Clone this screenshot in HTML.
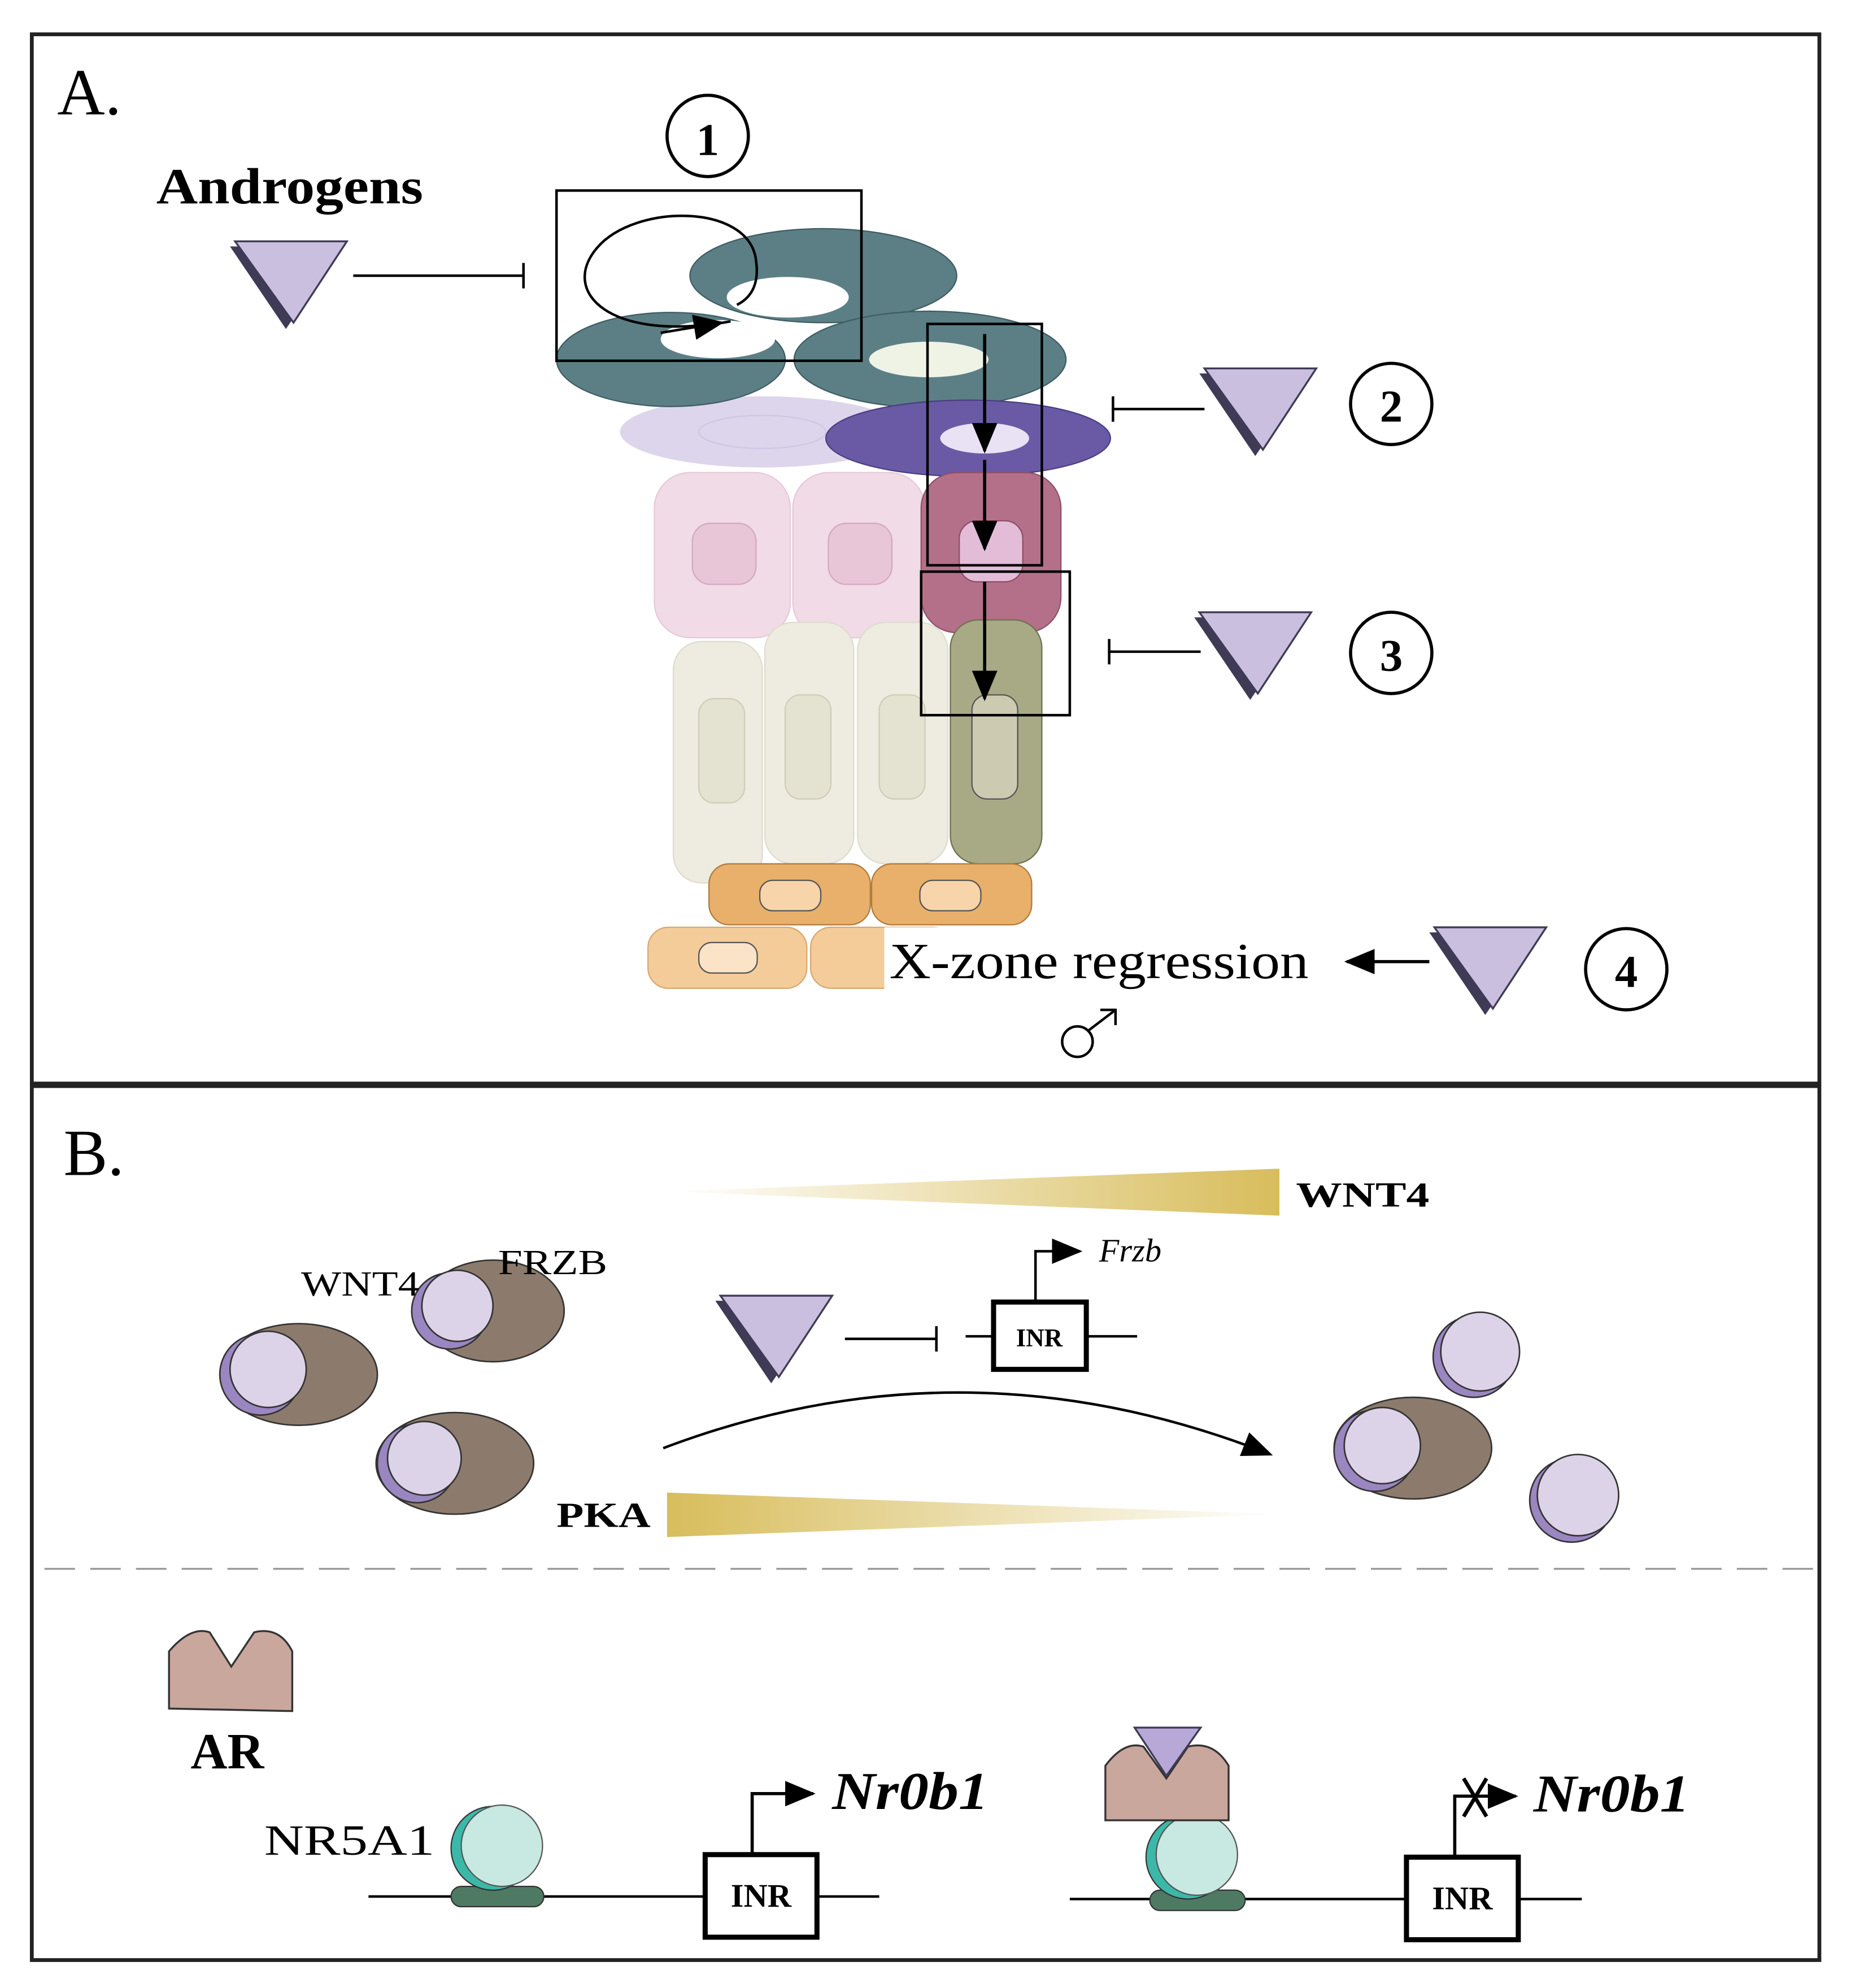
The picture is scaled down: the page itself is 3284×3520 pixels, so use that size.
<!DOCTYPE html>
<html><head><style>html,body{margin:0;padding:0;background:#fff}svg{display:block}</style></head><body>
<svg xmlns="http://www.w3.org/2000/svg" width="3284" height="3520" viewBox="0 0 1460 1565">
<defs>
<linearGradient id="gw" x1="0" x2="1"><stop offset="0" stop-color="#fff"/><stop offset="1" stop-color="#d8bd5c"/></linearGradient>
<linearGradient id="gp" x1="1" x2="0"><stop offset="0" stop-color="#fff"/><stop offset="1" stop-color="#d8bd5c"/></linearGradient>
<marker id="ah2" markerWidth="24" markerHeight="20" refX="22" refY="10" orient="auto" markerUnits="userSpaceOnUse"><path d="M0,0 L24,10 L0,20z" fill="#000"/></marker>
<g id="tri"><path d="M-44,-30 L44,-30 L0,35z" fill="#3f3a55" transform="translate(-4,2)"/><path d="M-44,-32 L44,-32 L2,32z" fill="#cbbfe0" stroke="#3f3a55" stroke-width="1.5"/></g>
</defs>
<g font-family="Liberation Serif, serif">
<rect x="25" y="27" width="1407" height="826" fill="none" stroke="#222" stroke-width="3"/>
<rect x="25" y="855" width="1407" height="688" fill="none" stroke="#222" stroke-width="3"/>
<text x="45" y="90" font-size="52">A.</text>
<text x="123" y="160" font-size="40" font-weight="bold" textLength="210" lengthAdjust="spacingAndGlyphs">Androgens</text>
<circle cx="557" cy="107" r="32" fill="#fff" stroke="#000" stroke-width="2.5"/><text x="557" y="122" font-size="36" font-weight="bold" text-anchor="middle">1</text>
<use href="#tri" x="229" y="222"/>
<line x1="278" y1="217" x2="412" y2="217" stroke="#000" stroke-width="2"/><line x1="412" y1="207" x2="412" y2="227" stroke="#000" stroke-width="2"/>
<ellipse cx="600" cy="340" rx="112" ry="28" fill="#ddd5ec"/><ellipse cx="600" cy="340" rx="50" ry="13" fill="none" stroke="#cfc6e4"/>
<ellipse cx="648" cy="217" rx="105" ry="37" fill="#5c7f86" stroke="#3e5c62"/><ellipse cx="620" cy="234" rx="48" ry="16" fill="#fff"/>
<ellipse cx="528" cy="283" rx="90" ry="37" fill="#5c7f86" stroke="#3e5c62"/><ellipse cx="565" cy="267" rx="45" ry="15" fill="#fff"/>
<ellipse cx="732" cy="283" rx="107" ry="38" fill="#5c7f86" stroke="#3e5c62"/><ellipse cx="731" cy="283" rx="47" ry="14" fill="#eef3e6"/>
<ellipse cx="762" cy="345" rx="112" ry="30" fill="#6a5aa6" stroke="#4a3e80"/><ellipse cx="775" cy="345" rx="35" ry="12" fill="#e8e2f4"/>
<rect x="515" y="372" width="107" height="130" rx="28" fill="#f0dbe6" stroke="#e6c9d8"/><rect x="545" y="412" width="50" height="48" rx="14" fill="#e8c6d8" stroke="#d4a8bf"/>
<rect x="624" y="372" width="104" height="130" rx="28" fill="#f0dbe6" stroke="#e6c9d8"/><rect x="652" y="412" width="50" height="48" rx="14" fill="#e8c6d8" stroke="#d4a8bf"/>
<rect x="725" y="372" width="110" height="126" rx="28" fill="#b47088" stroke="#8f4f68"/><rect x="755" y="410" width="50" height="48" rx="14" fill="#e3bdd8" stroke="#8f4f68"/>
<rect x="530" y="505" width="70" height="190" rx="22" fill="#eeece0" stroke="#dedccd"/><rect x="550" y="550" width="36" height="82" rx="12" fill="#e4e2d0" stroke="#cfcdb8"/>
<rect x="602" y="490" width="70" height="190" rx="22" fill="#eeece0" stroke="#dedccd"/><rect x="618" y="547" width="36" height="82" rx="12" fill="#e4e2d0" stroke="#cfcdb8"/>
<rect x="675" y="490" width="71" height="190" rx="22" fill="#eeece0" stroke="#dedccd"/><rect x="692" y="547" width="36" height="82" rx="12" fill="#e4e2d0" stroke="#cfcdb8"/>
<rect x="748" y="488" width="72" height="192" rx="22" fill="#a8aa86" stroke="#6f7150"/><rect x="765" y="547" width="36" height="82" rx="12" fill="#cdcab2" stroke="#555"/>
<rect x="558" y="680" width="127" height="48" rx="16" fill="#e8b06a" stroke="#b07a3a"/><rect x="598" y="693" width="48" height="24" rx="10" fill="#f8d4aa" stroke="#555"/>
<rect x="686" y="680" width="126" height="48" rx="16" fill="#e8b06a" stroke="#b07a3a"/><rect x="724" y="693" width="48" height="24" rx="10" fill="#f8d4aa" stroke="#555"/>
<rect x="510" y="730" width="125" height="48" rx="16" fill="#f4cc9a" stroke="#d8a870"/><rect x="550" y="742" width="46" height="24" rx="10" fill="#fbe3c8" stroke="#555"/>
<rect x="638" y="730" width="112" height="48" rx="16" fill="#f4cc9a" stroke="#d8a870"/>
<rect x="696" y="730" width="60" height="50" fill="#fff"/>
<path d="M575,253 C480,270 440,230 470,195 C500,160 590,160 595,205 C598,225 590,235 580,240" fill="none" stroke="#000" stroke-width="2"/>
<line x1="520" y1="262" x2="568" y2="254" stroke="#000" stroke-width="2" marker-end="url(#ah2)"/>
<rect x="438" y="150" width="240" height="134" fill="none" stroke="#000" stroke-width="2"/>
<rect x="730" y="255" width="90" height="190" fill="none" stroke="#000" stroke-width="2"/>
<rect x="725" y="450" width="117" height="113" fill="none" stroke="#000" stroke-width="2"/>
<line x1="775" y1="263" x2="775" y2="355" stroke="#000" stroke-width="2.5" marker-end="url(#ah2)"/>
<line x1="775" y1="362" x2="775" y2="432" stroke="#000" stroke-width="2.5" marker-end="url(#ah2)"/>
<line x1="775" y1="458" x2="775" y2="550" stroke="#000" stroke-width="2.5" marker-end="url(#ah2)"/>
<use href="#tri" x="992" y="322"/>
<line x1="875" y1="322" x2="948" y2="322" stroke="#000" stroke-width="2"/><line x1="876" y1="312" x2="876" y2="332" stroke="#000" stroke-width="2"/>
<circle cx="1095" cy="318" r="32" fill="#fff" stroke="#000" stroke-width="2.5"/><text x="1095" y="332" font-size="36" font-weight="bold" text-anchor="middle">2</text>
<use href="#tri" x="988" y="514"/>
<line x1="872" y1="513" x2="945" y2="513" stroke="#000" stroke-width="2"/><line x1="873" y1="503" x2="873" y2="523" stroke="#000" stroke-width="2"/>
<circle cx="1095" cy="514" r="32" fill="#fff" stroke="#000" stroke-width="2.5"/><text x="1095" y="528" font-size="36" font-weight="bold" text-anchor="middle">3</text>
<text x="700" y="770" font-size="40" textLength="330" lengthAdjust="spacingAndGlyphs">X-zone regression</text>
<line x1="1125" y1="757" x2="1060" y2="757" stroke="#000" stroke-width="2.5" marker-end="url(#ah2)"/>
<use href="#tri" x="1173" y="762"/>
<circle cx="1280" cy="763" r="32" fill="#fff" stroke="#000" stroke-width="2.5"/><text x="1280" y="777" font-size="36" font-weight="bold" text-anchor="middle">4</text>
<circle cx="848" cy="820" r="12" fill="none" stroke="#000" stroke-width="2"/>
<path d="M857,811 L878,795 M866,795 H878 V807" fill="none" stroke="#000" stroke-width="2"/>
<text x="50" y="925" font-size="52">B.</text>
<polygon points="525,938 1007,920 1007,957" fill="url(#gw)"/>
<text x="1020" y="950" font-size="28" font-weight="bold" textLength="105" lengthAdjust="spacingAndGlyphs">WNT4</text>
<polygon points="525,1175 525,1210 1007,1192" fill="url(#gp)"/>
<text x="438" y="1202" font-size="28" font-weight="bold" textLength="74" lengthAdjust="spacingAndGlyphs">PKA</text>
<line x1="760" y1="1052" x2="895" y2="1052" stroke="#000" stroke-width="2"/>
<rect x="782" y="1025" width="73" height="53" fill="#fff" stroke="#000" stroke-width="4"/>
<text x="818" y="1060" font-size="20" font-weight="bold" text-anchor="middle">INR</text>
<path d="M815,1025 V985 H850" fill="none" stroke="#000" stroke-width="2" marker-end="url(#ah2)"/>
<text x="865" y="993" font-size="26" font-style="italic">Frzb</text>
<use href="#tri" x="611" y="1052"/>
<line x1="665" y1="1054" x2="737" y2="1054" stroke="#000" stroke-width="2"/><line x1="737" y1="1044" x2="737" y2="1064" stroke="#000" stroke-width="2"/>
<path d="M522,1140 Q760,1050 1000,1145" fill="none" stroke="#000" stroke-width="2" marker-end="url(#ah2)"/>
<g stroke="#333" stroke-width="1.2">
<ellipse cx="235" cy="1082" rx="62" ry="40" fill="#8c7b6c"/><circle cx="205" cy="1082" r="32" fill="#9a86c0"/><circle cx="211" cy="1078" r="30" fill="#ddd3e8"/>
<ellipse cx="388" cy="1032" rx="56" ry="40" fill="#8c7b6c"/><circle cx="354" cy="1032" r="30" fill="#9a86c0"/><circle cx="360" cy="1028" r="28" fill="#ddd3e8"/>
<ellipse cx="358" cy="1152" rx="62" ry="40" fill="#8c7b6c"/><circle cx="328" cy="1152" r="31" fill="#9a86c0"/><circle cx="334" cy="1148" r="29" fill="#ddd3e8"/>
<ellipse cx="1112" cy="1140" rx="62" ry="40" fill="#8c7b6c"/><circle cx="1082" cy="1142" r="32" fill="#9a86c0"/><circle cx="1088" cy="1138" r="30" fill="#ddd3e8"/>
<circle cx="1160" cy="1068" r="32" fill="#9a86c0"/><circle cx="1165" cy="1064" r="31" fill="#ddd3e8"/>
<circle cx="1237" cy="1181" r="33" fill="#9a86c0"/><circle cx="1242" cy="1177" r="32" fill="#ddd3e8"/>
</g>
<text x="237" y="1020" font-size="28" textLength="93" lengthAdjust="spacingAndGlyphs">WNT4</text>
<text x="392" y="1003" font-size="28" textLength="86" lengthAdjust="spacingAndGlyphs">FRZB</text>
<line x1="35" y1="1235" x2="1430" y2="1235" stroke="#999" stroke-width="1.5" stroke-dasharray="24,12"/>
<path d="M133,1345 V1300 Q150,1280 165,1285 L182,1312 L200,1285 Q220,1280 230,1300 V1347z" fill="#c9a79c" stroke="#333" stroke-width="1.5"/>
<text x="150" y="1392" font-size="40" font-weight="bold">AR</text>
<text x="208" y="1460" font-size="34" textLength="134" lengthAdjust="spacingAndGlyphs">NR5A1</text>
<line x1="290" y1="1493" x2="692" y2="1493" stroke="#000" stroke-width="2"/>
<rect x="355" y="1485" width="73" height="16" rx="8" fill="#4e7a64" stroke="#333"/>
<circle cx="388" cy="1455" r="33" fill="#3cb8a8" stroke="#333"/><circle cx="395" cy="1453" r="32" fill="#c8e8e2" stroke="#555"/>
<rect x="555" y="1460" width="88" height="65" fill="#fff" stroke="#000" stroke-width="4"/>
<text x="599" y="1501" font-size="26" font-weight="bold" text-anchor="middle">INR</text>
<path d="M592,1460 V1412 H640" fill="none" stroke="#000" stroke-width="2.5" marker-end="url(#ah2)"/>
<text x="655" y="1424" font-size="42" font-weight="bold" font-style="italic" textLength="123" lengthAdjust="spacingAndGlyphs">Nr0b1</text>
<line x1="842" y1="1495" x2="1245" y2="1495" stroke="#000" stroke-width="2"/>
<rect x="905" y="1488" width="75" height="16" rx="8" fill="#4e7a64" stroke="#333"/>
<circle cx="935" cy="1462" r="33" fill="#3cb8a8" stroke="#333"/><circle cx="942" cy="1460" r="32" fill="#c8e8e2" stroke="#555"/>
<path d="M870,1433 V1390 Q885,1370 900,1375 L918,1400 L935,1375 Q955,1370 967,1390 V1433z" fill="#c9a79c" stroke="#333" stroke-width="1.5"/>
<path d="M893,1360 L945,1360 L918,1398z" fill="#b8a8d8" stroke="#3f3a55" stroke-width="1.5"/>
<rect x="1107" y="1462" width="88" height="65" fill="#fff" stroke="#000" stroke-width="4"/>
<text x="1151" y="1503" font-size="26" font-weight="bold" text-anchor="middle">INR</text>
<path d="M1145,1462 V1414 H1193" fill="none" stroke="#000" stroke-width="2.5" marker-end="url(#ah2)"/>
<path d="M1152,1400 L1170,1430 M1170,1400 L1152,1430" stroke="#000" stroke-width="3"/>
<text x="1207" y="1426" font-size="42" font-weight="bold" font-style="italic" textLength="123" lengthAdjust="spacingAndGlyphs">Nr0b1</text>
</g>
</svg>
</body></html>
